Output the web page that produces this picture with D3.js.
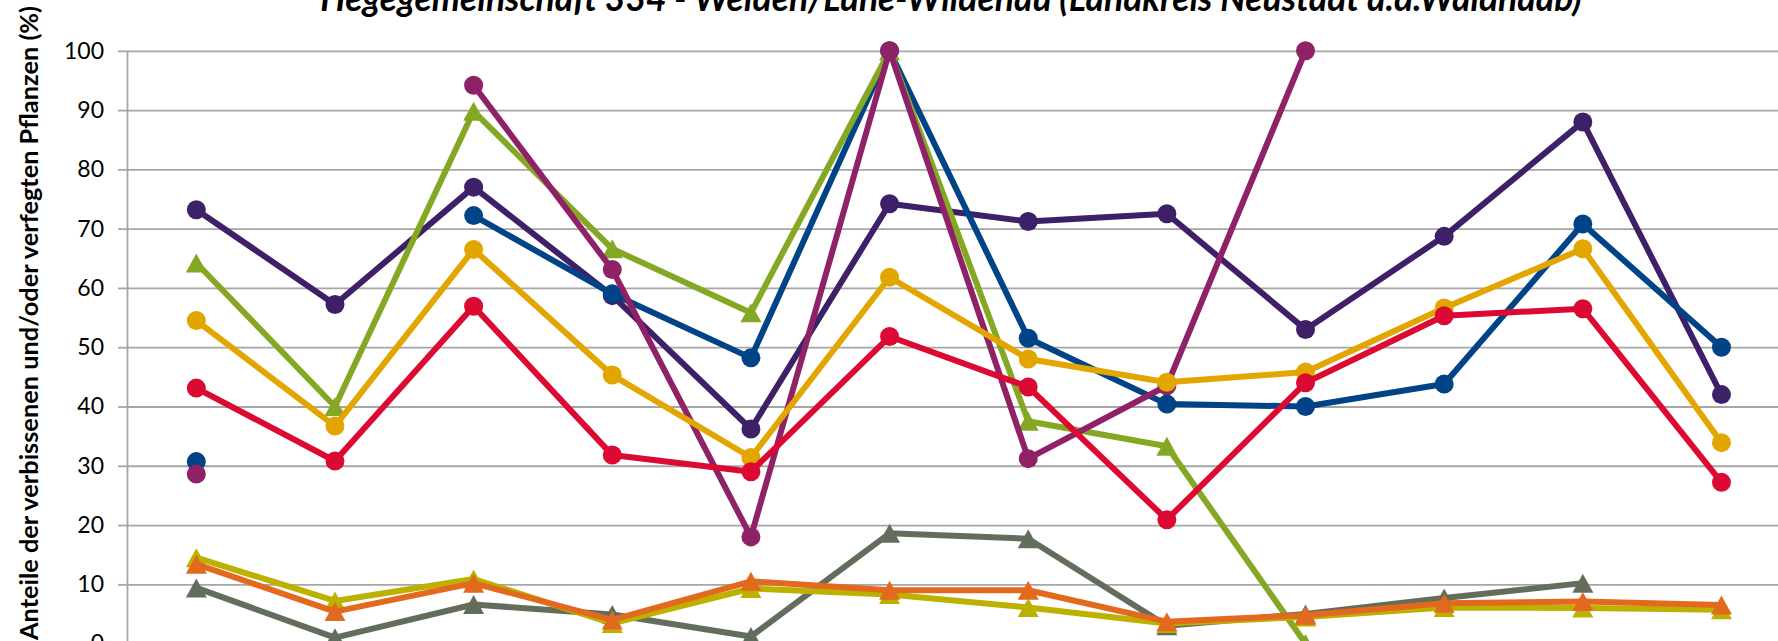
<!DOCTYPE html>
<html><head><meta charset="utf-8">
<script src="https://cdn.jsdelivr.net/npm/d3@7"></script>
<style>body{margin:0;background:#fff;overflow:hidden} svg{display:block}</style>
</head><body>
<svg id="c" width="1778" height="641"></svg>
<script>
// ---- data ----
const titleText = "Hegegemeinschaft 334 - Weiden/Luhe-Wildenau (Landkreis Neustadt a.d.Waldnaab)";
const yTitleText = "Anteile der verbissenen und/oder verfegten Pflanzen (%)";
const categories = ["1","2","3","4","5","6","7","8","9","10","11","12"];
const yTicks = [0,10,20,30,40,50,60,70,80,90,100];

const sPurple  = [73.2,57.2,77.0,58.7,36.2,74.2,71.2,72.5,53.0,68.7,88.0,42.0];
const sBlue    = [30.7,null,72.2,59.0,48.2,100,51.5,40.4,40.0,43.8,70.8,50.0];
const sGreen   = [64.2,40.0,89.8,66.6,55.8,100,37.5,33.3,0,null,null,null];
const sMagenta = [28.6,null,94.2,63.1,18.0,100,31.2,43.5,100,null,null,null];
const sGold    = [54.5,36.7,66.5,45.3,31.4,61.8,48.0,44.1,45.8,56.6,66.6,33.9];
const sRed     = [43.1,30.8,56.9,31.8,29.0,51.8,43.3,20.9,44.0,55.3,56.5,27.2];
const sGrey    = [9.4,1.0,6.6,4.9,1.2,18.6,17.7,3.0,5.0,7.7,10.2,null];
const sYellow  = [14.5,7.2,10.9,3.4,9.3,8.3,6.1,3.4,4.5,6.1,6.0,5.7];
const sOrange  = [13.4,5.4,10.2,4.0,10.5,9.0,9.0,3.7,4.8,6.8,7.1,6.5];

const series = [
  {values: sPurple,  color: "#3d2068", marker: "circle"},
  {values: sBlue,    color: "#004386", marker: "circle"},
  {values: sGreen,   color: "#84a823", marker: "triangle"},
  {values: sMagenta, color: "#8f2167", marker: "circle"},
  {values: sGold,    color: "#e3a600", marker: "circle"},
  {values: sRed,     color: "#dc0a32", marker: "circle"},
  {values: sGrey,    color: "#626e5b", marker: "triangle"},
  {values: sYellow,  color: "#bdb100", marker: "triangle"},
  {values: sOrange,  color: "#e3691e", marker: "triangle"}
];

// ---- layout ----
const W = 1778, H = 641;
const axisX = 127, bandW = 138.65;
const yBottom = 643.6, yTop = 50.8;
const FONT = "Lato, 'Open Sans', sans-serif";

const svg = d3.select("#c");
const x = d3.scaleBand().domain(categories).range([axisX, axisX + bandW * categories.length]).padding(0);
const y = d3.scaleLinear().domain([0, 100]).range([yBottom, yTop]);
const cx = c => x(c) + x.bandwidth() / 2;

// gridlines
svg.append("g")
  .attr("transform", `translate(${axisX},0)`)
  .call(d3.axisLeft(y).tickValues(yTicks).tickSize(-(W - axisX + 20)).tickFormat(""))
  .call(g => g.select(".domain").remove())
  .call(g => g.selectAll(".tick line").attr("stroke", "#a6a6a6").attr("stroke-width", 1.8));

// y axis
svg.append("g")
  .attr("transform", `translate(${axisX},0)`)
  .call(d3.axisLeft(y).tickValues(yTicks).tickSize(9).tickPadding(14).tickSizeOuter(0))
  .call(g => g.select(".domain").attr("stroke", "#a6a6a6").attr("stroke-width", 1.8))
  .call(g => g.selectAll(".tick line").attr("stroke", "#a6a6a6").attr("stroke-width", 1.8))
  .call(g => g.selectAll(".tick text")
      .attr("font-family", FONT)
      .attr("font-size", 23).attr("fill", "#000"));

// x axis baseline (labels lie below the visible area, so none are drawn)
svg.append("g")
  .attr("transform", `translate(0,${y(0)})`)
  .call(d3.axisBottom(x).tickSize(0).tickFormat(""))
  .call(g => g.select(".domain").attr("stroke", "#a6a6a6").attr("stroke-width", 1.8));

// series
const line = d3.line()
  .defined(d => d.v != null)
  .x(d => cx(d.c))
  .y(d => y(d.v));

const triW = 21, triH = 19, rCirc = 9.5;
const triPath = `M0,${-triH/2}L${triW/2},${triH/2}L${-triW/2},${triH/2}Z`;

series.forEach(s => {
  const pts = categories.map((c, i) => ({c, v: s.values[i]}));
  const g = svg.append("g");
  g.append("path")
    .attr("d", line(pts))
    .attr("fill", "none")
    .attr("stroke", s.color)
    .attr("stroke-width", 6)
    .attr("stroke-linejoin", "round")
    .attr("stroke-linecap", "round");
  const valid = pts.filter(d => d.v != null);
  if (s.marker === "circle") {
    g.selectAll("circle").data(valid).join("circle")
      .attr("cx", d => cx(d.c)).attr("cy", d => y(d.v))
      .attr("r", rCirc).attr("fill", s.color);
  } else {
    g.selectAll("path.m").data(valid).join("path")
      .attr("class", "m")
      .attr("d", triPath)
      .attr("transform", d => `translate(${cx(d.c)},${y(d.v)})`)
      .attr("fill", s.color);
  }
});

// title (top mostly cut off, as in the reference)
function fitText(sel, target) {
  let fs = parseFloat(sel.attr("font-size"));
  for (let k = 0; k < 4; k++) {
    const len = sel.node().getComputedTextLength();
    if (len > 0) fs = fs * target / len;
    sel.attr("font-size", fs);
  }
}
const title = svg.append("text")
  .attr("x", 951).attr("y", 11.3)
  .attr("text-anchor", "middle")
  .attr("font-family", FONT)
  .attr("font-weight", "bold").attr("font-style", "italic")
  .attr("font-size", 28)
  .text(titleText);
fitText(title, 1261);

// y title
const yt = svg.append("text")
  .attr("transform", "translate(38,323) rotate(-90)")
  .attr("text-anchor", "middle")
  .attr("font-family", FONT)
  .attr("font-weight", "bold")
  .attr("font-size", 21)
  .text(yTitleText);
fitText(yt, 634);
</script>
</body></html>
